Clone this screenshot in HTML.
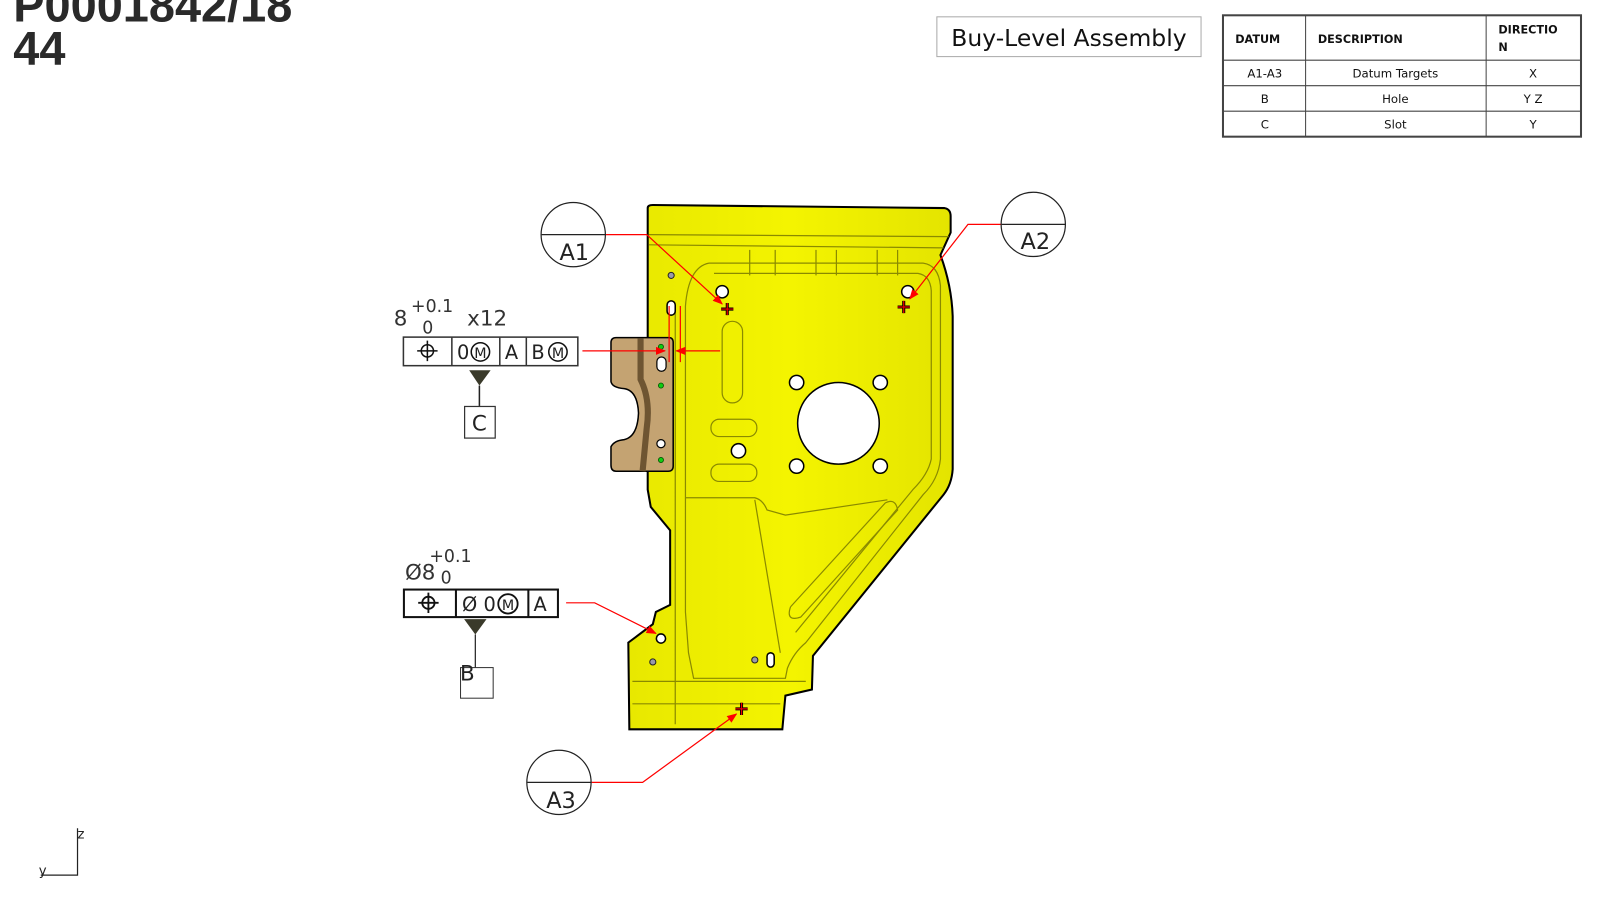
<!DOCTYPE html>
<html><head><meta charset="utf-8"><style>
html,body{margin:0;padding:0;background:#fff;width:1600px;height:900px;overflow:hidden}
svg{display:block}
</style></head><body>
<svg width="1600" height="900" viewBox="0 0 1600 900" xmlns="http://www.w3.org/2000/svg" font-family="Liberation Sans, DejaVu Sans, sans-serif">
<g transform="scale(1.02)">
<!-- title -->
<text x="13" y="21" font-size="46" font-weight="bold" fill="#2a2a2a">P0001842/18</text>
<text x="13" y="63" font-size="46" font-weight="bold" fill="#2a2a2a">44</text>
<!-- buy level -->
<rect x="918.5" y="16.5" width="259" height="39" fill="#fff" stroke="#aaa"/>
<text x="1048" y="45" font-size="23" text-anchor="middle" fill="#111" font-family="DejaVu Sans, sans-serif">Buy-Level Assembly</text>
<!-- table -->
<g stroke="#444" fill="none">
<rect x="1199" y="15" width="351" height="119" stroke-width="2"/>
<line x1="1199" y1="59" x2="1550" y2="59"/>
<line x1="1199" y1="84" x2="1550" y2="84"/>
<line x1="1199" y1="109" x2="1550" y2="109"/>
<line x1="1280" y1="15" x2="1280" y2="134"/>
<line x1="1457" y1="15" x2="1457" y2="134"/>
</g>
<g font-family="DejaVu Sans, sans-serif" font-size="11" fill="#111">
<text x="1211" y="42" font-weight="bold">DATUM</text>
<text x="1292" y="42" font-weight="bold">DESCRIPTION</text>
<text x="1469" y="33" font-weight="bold">DIRECTIO</text>
<text x="1469" y="50" font-weight="bold">N</text>
<g text-anchor="middle" font-size="11.5">
<text x="1240" y="76">A1-A3</text><text x="1368" y="76">Datum Targets</text><text x="1503" y="76">X</text>
<text x="1240" y="101">B</text><text x="1368" y="101">Hole</text><text x="1503" y="101">Y Z</text>
<text x="1240" y="126">C</text><text x="1368" y="126">Slot</text><text x="1503" y="126">Y</text>
</g></g>

<!-- part -->
<defs>
<linearGradient id="yg" x1="0" x2="1"><stop offset="0" stop-color="#e8e800"/><stop offset="0.5" stop-color="#f4f400"/><stop offset="1" stop-color="#e4e400"/></linearGradient>
<marker id="ah" markerWidth="10" markerHeight="8" refX="9" refY="4" orient="auto" markerUnits="userSpaceOnUse"><path d="M0,0 L10,4 L0,8z" fill="#f00"/></marker>
</defs>
<path d="M635,204 Q635,201 640,201 L926,204 Q932,205 932,212 L932,228 L922,250 Q933,280 934,310 L934,460 Q933,475 925,485 L797,643 L796,676 L770,682 L767,715 L617,715 L616,630 L640,612 L643,600 L657,593 L657,520 L638,497 L635,480 Z" fill="url(#yg)" stroke="#000" stroke-width="2"/>
<g fill="none" stroke="#8a8a00" stroke-width="1.2">
<line x1="636" y1="230" x2="930" y2="232"/>
<line x1="636" y1="240" x2="925" y2="243"/>
<path d="M695,258 L905,258 Q920,260 922,280 L922,450 Q920,470 905,485 L790,630 Q778,640 772,655 L770,665 L680,665 L675,640 L672,600 L672,300 Q675,262 695,258"/>
<path d="M700,268 L900,268 Q912,270 913,285 L913,450 Q910,465 895,480 L780,620"/>
<path d="M672,488 L740,488 Q748,490 752,500 L770,505 L870,490"/>
<line x1="740" y1="490" x2="765" y2="640"/>
<line x1="620" y1="690" x2="765" y2="690"/>
<line x1="620" y1="668" x2="790" y2="668"/>
<rect x="708" y="315" width="20" height="80" rx="10"/>
<rect x="697" y="411" width="45" height="17" rx="8"/>
<rect x="697" y="455" width="45" height="17" rx="8"/>
<path d="M775,595 L868,493 Q878,488 880,500 L785,605 Q770,610 775,595"/>
<line x1="735" y1="245" x2="735" y2="270"/><line x1="760" y1="245" x2="760" y2="270"/>
<line x1="800" y1="245" x2="800" y2="270"/><line x1="820" y1="245" x2="820" y2="270"/>
<line x1="860" y1="245" x2="860" y2="270"/><line x1="880" y1="245" x2="880" y2="270"/>
<line x1="662" y1="300" x2="662" y2="710"/>
</g>
<!-- holes -->
<g fill="#fff" stroke="#000" stroke-width="1.5">
<circle cx="822" cy="415" r="40"/>
<circle cx="781" cy="375" r="7"/><circle cx="863" cy="375" r="7"/>
<circle cx="781" cy="457" r="7"/><circle cx="863" cy="457" r="7"/>
<circle cx="724" cy="442" r="7"/>
<circle cx="708" cy="286" r="6"/><circle cx="890" cy="286" r="6"/>
<rect x="654" y="295" width="8" height="14" rx="4"/>
<circle cx="648" cy="626" r="4.5"/>
<rect x="752" y="640" width="7" height="14" rx="3.5"/>
</g>
<g fill="#99a" stroke="#222" stroke-width="1"><circle cx="658" cy="270" r="3"/><circle cx="640" cy="649" r="3"/><circle cx="740" cy="647" r="3"/></g>
<!-- brown -->
<path d="M604,331 L656,331 Q660,331 660,336 L660,457 Q660,462 655,462 L604,462 Q599,462 599,456 L599,438 Q602,432 612,431 Q625,428 626,405 Q625,383 612,381 Q600,380 599,374 L599,336 Q599,331 604,331 Z" fill="#c4a372" stroke="#000" stroke-width="1.5"/>
<path d="M628,332 L628,372 Q638,392 634,420 L630,462" stroke="#6e5532" stroke-width="6" fill="none"/>
<g fill="#fff" stroke="#000" stroke-width="1.2"><rect x="644" y="350" width="9" height="14" rx="4.5"/><circle cx="648" cy="435" r="4"/></g>
<g fill="#1c1" stroke="#050" stroke-width="0.8"><circle cx="648" cy="340" r="2.5"/><circle cx="648" cy="378" r="2.5"/><circle cx="648" cy="451" r="2.5"/></g>
<!-- datum target crosses -->
<g stroke="#000" stroke-width="3"><path d="M713,297v12M707,303h12"/><path d="M886,295v12M880,301h12"/><path d="M727,689v12M721,695h12"/></g>
<g stroke="#e00" stroke-width="1.2"><path d="M713,297v12M707,303h12"/><path d="M886,295v12M880,301h12"/><path d="M727,689v12M721,695h12"/></g>

<!-- leaders -->
<g stroke="#f00" stroke-width="1.2" fill="none">
<path d="M594,230 L634,230 L708,298" marker-end="url(#ah)"/>
<path d="M981,220 L949,220 L892,293" marker-end="url(#ah)"/>
<path d="M580,767 L630,767 L722,700" marker-end="url(#ah)"/>
<path d="M571,344 L652,344" marker-end="url(#ah)"/>
<path d="M706,344 L663,344" marker-end="url(#ah)"/>
<path d="M656,300 L656,355"/><path d="M667,300 L667,355"/>
<path d="M555,591 L583,591 L643,621" marker-end="url(#ah)"/>
</g>
<!-- balloons -->
<g fill="#fff" stroke="#222" stroke-width="1.2">
<circle cx="562" cy="230" r="31.5"/><line x1="531" y1="230" x2="594" y2="230"/>
<circle cx="1013" cy="220" r="31.5"/><line x1="982" y1="220" x2="1045" y2="220"/>
<circle cx="548" cy="767" r="31.5"/><line x1="517" y1="767" x2="580" y2="767"/>
</g>
<g font-family="DejaVu Sans, sans-serif" font-size="22" fill="#222" text-anchor="middle">
<text x="563" y="255">A1</text><text x="1015" y="244">A2</text><text x="550" y="792">A3</text>
</g>

<!-- FCF 1 -->
<g font-family="DejaVu Sans, sans-serif" fill="#333">
<text x="386" y="319" font-size="21">8</text>
<text x="403" y="306" font-size="17">+0.1</text>
<text x="414" y="327" font-size="17">0</text>
<text x="458" y="319" font-size="21">x12</text>
</g>
<rect x="395.5" y="330.5" width="171" height="28" fill="#fff" stroke="#333" stroke-width="1.5"/>
<g stroke="#333" stroke-width="1.5"><line x1="443" y1="331" x2="443" y2="358"/><line x1="490" y1="331" x2="490" y2="358"/><line x1="516" y1="331" x2="516" y2="358"/></g>
<g stroke="#111" stroke-width="1.5" fill="none"><circle cx="419" cy="344" r="6"/><path d="M409,344h20M419,334v20"/>
<circle cx="471" cy="345" r="9"/><circle cx="547" cy="345" r="9"/></g>
<g font-family="DejaVu Sans, sans-serif" font-size="19" fill="#222">
<text x="448" y="352">0</text><text x="465" y="351" font-size="14">M</text>
<text x="495" y="352">A</text><text x="521" y="352">B</text><text x="541" y="351" font-size="14">M</text>
</g>
<path d="M460,363 L481,363 L470,378 Z" fill="#3a3a2a"/>
<line x1="470" y1="378" x2="470" y2="398" stroke="#222" stroke-width="1.5"/>
<rect x="455.5" y="398.5" width="30" height="31" fill="#fff" stroke="#333" stroke-width="1.2"/>
<text x="470" y="422" font-family="DejaVu Sans, sans-serif" font-size="21" fill="#222" text-anchor="middle">C</text>

<!-- FCF 2 -->
<g font-family="DejaVu Sans, sans-serif" fill="#333">
<text x="397" y="568" font-size="21">Ø8</text>
<text x="421" y="551" font-size="17">+0.1</text>
<text x="432" y="572" font-size="17">0</text>
</g>
<rect x="396" y="578" width="151" height="27" fill="#fff" stroke="#111" stroke-width="2"/>
<g stroke="#111" stroke-width="2"><line x1="447" y1="578" x2="447" y2="605"/><line x1="518" y1="578" x2="518" y2="605"/></g>
<g stroke="#111" stroke-width="1.8" fill="none"><circle cx="420" cy="591" r="6"/><path d="M410,591h20M420,581v20"/><circle cx="498" cy="592" r="9.5"/></g>
<g font-family="DejaVu Sans, sans-serif" font-size="19" fill="#222">
<text x="453" y="599">Ø</text><text x="474" y="599">0</text><text x="492" y="598" font-size="14">M</text><text x="523" y="599">A</text>
</g>
<path d="M455,607 L477,607 L466,622 Z" fill="#3a3a2a"/>
<line x1="466" y1="622" x2="466" y2="668" stroke="#222" stroke-width="1.2"/>
<rect x="451.5" y="654.5" width="32" height="30" fill="#fff" stroke="#333" stroke-width="1"/>
<text x="451" y="667" font-family="DejaVu Sans, sans-serif" font-size="21" fill="#222">B</text>

<!-- axis -->
<path d="M76,812 L76,858 L40,858" fill="none" stroke="#222" stroke-width="1.2"/>
<text x="76" y="822" font-family="DejaVu Sans, sans-serif" font-size="13" fill="#222">z</text>
<text x="38" y="858" font-family="DejaVu Sans, sans-serif" font-size="13" fill="#222">y</text>
</g>
</svg>
</body></html>
